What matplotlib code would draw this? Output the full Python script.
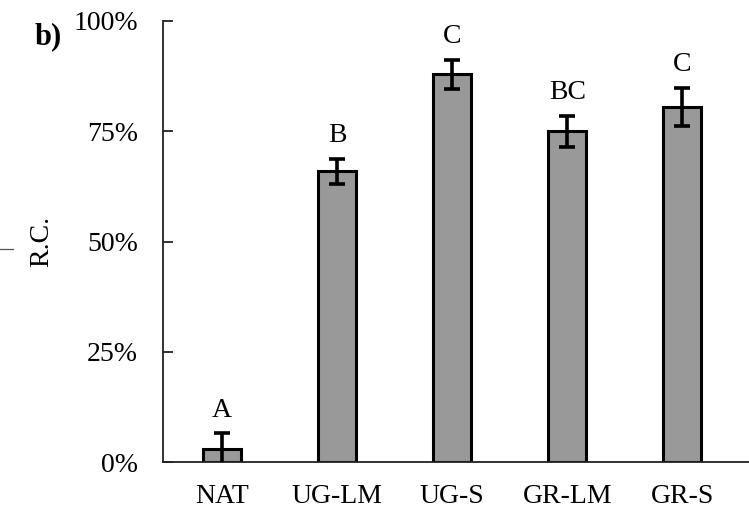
import matplotlib
matplotlib.use("Agg")
import matplotlib.pyplot as plt
from matplotlib.lines import Line2D
from matplotlib.ticker import PercentFormatter

# values (percent)
groups = ["NAT", "UG-LM", "UG-S", "GR-LM", "GR-S"]
rc_mean = [2.9, 65.9, 87.9, 75.0, 80.5]
rc_err = [3.6, 2.9, 3.3, 3.5, 4.3]
letters = ["A", "B", "C", "BC", "C"]
yticks = [0, 25, 50, 75, 100]

plt.rcParams["font.family"] = ["Liberation Serif", "DejaVu Serif"]

fig = plt.figure(figsize=(7.49, 5.12), dpi=100)
ax = fig.add_axes([163 / 749, 1 - 462 / 512, 1 - 163 / 749, (462 - 21) / 512])

xpos = list(range(len(groups)))
ax.bar(xpos, rc_mean, width=0.33, color="#999999", edgecolor="black", linewidth=2.2, zorder=2)
ax.errorbar(xpos, rc_mean, yerr=rc_err, fmt="none", ecolor="black",
            elinewidth=2.6, capsize=6, capthick=2.6, zorder=3)

for x, m, e, lab in zip(xpos, rc_mean, rc_err, letters):
    ax.annotate(lab, (x, m + e), xytext=(0, 12), textcoords="offset points",
                ha="center", va="baseline", fontsize=20)

ax.set_xlim(-0.513, 4.58)
ax.set_ylim(0, 100)
ax.set_yticks(yticks)
ax.yaxis.set_major_formatter(PercentFormatter(decimals=0))
ax.set_xticks(xpos)
ax.set_xticklabels(groups)

ax.spines["top"].set_visible(False)
ax.spines["right"].set_visible(False)
ax.spines["left"].set_linewidth(1.3)
ax.spines["bottom"].set_linewidth(1.3)
ax.spines["left"].set_color("#222222")
ax.spines["bottom"].set_color("#222222")
ax.tick_params(axis="y", direction="in", length=7, width=1.3, color="#222222",
               pad=18, labelsize=20)
ax.tick_params(axis="x", length=0, pad=16, labelsize=20)

fig.text(42 / 749, 1 - 241 / 512, "R.C.", rotation=90, ha="center", va="center", fontsize=20)
fig.text(35 / 749, 1 - 44 / 512, "b)", fontweight="bold", ha="left", va="baseline", fontsize=22)

# stray line from the neighbouring panel
fig.add_artist(Line2D([0, 13 / 749], [1 - 249 / 512] * 2, color="#555555", linewidth=0.9))

fig.savefig("out.png", dpi=100)
